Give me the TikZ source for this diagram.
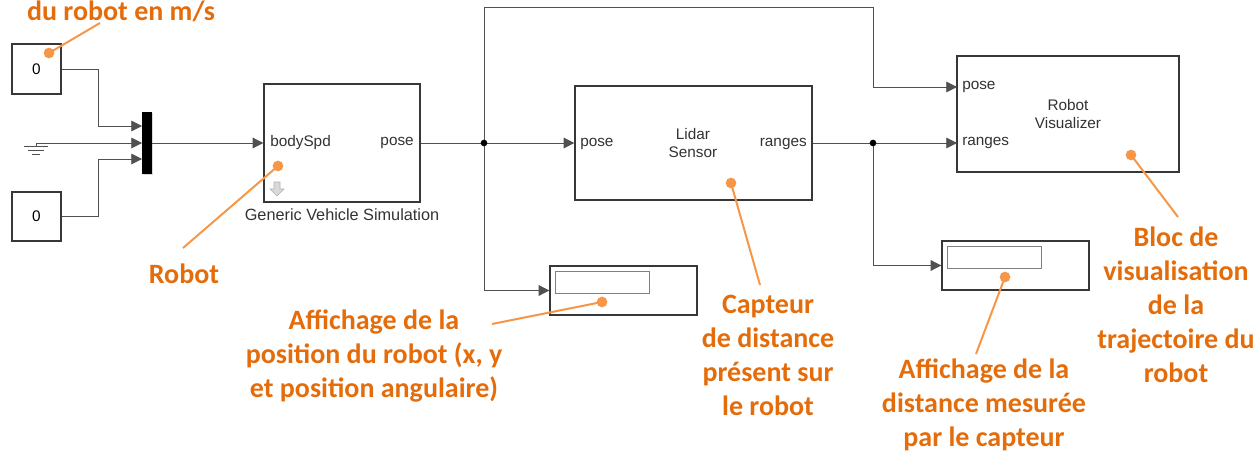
\documentclass[tikz,border=0pt]{standalone}
\usepackage{fontspec}
\setmainfont{Liberation Sans}
\newfontfamily\notefont{Carlito}
\usetikzlibrary{arrows.meta,shadows}
\definecolor{wiregray}{RGB}{80,80,80}
\definecolor{blockgray}{RGB}{55,55,55}
\definecolor{notetext}{RGB}{228,108,10}
\definecolor{noteline}{RGB}{247,150,70}

\begin{document}
\begin{tikzpicture}[x=0.75pt,y=-0.75pt,
  blk/.style={draw=blockgray,line width=1pt,fill=white,inner sep=0pt,
    drop shadow={shadow xshift=1pt,shadow yshift=-1pt,opacity=0.3}},
  wire/.style={draw=wiregray,line width=0.6pt},
  sig/.style={wire,-{Triangle[length=8pt,width=8pt]}},
  port/.style={font=\fontsize{11.5}{13}\selectfont,text=black!80,inner sep=0pt},
  note/.style={font=\notefont\bfseries\fontsize{21}{25.5}\selectfont,text=notetext,align=center,inner sep=0pt},
  callout/.style={draw=noteline,line width=1.5pt}]
\useasboundingbox (0,0) rectangle (1256,453);

% sources and mux
\node[blk,minimum width=36.75pt,minimum height=37.5pt,font=\fontsize{11.5}{13}\selectfont] (c1) at (36.5,69) {0};
\node[blk,minimum width=36.75pt,minimum height=36.75pt,font=\fontsize{11.5}{13}\selectfont] (c2) at (36.5,216.5) {0};
\node[fill=black,inner sep=0pt,minimum width=7.5pt,minimum height=46.5pt,
  drop shadow={shadow xshift=1pt,shadow yshift=-1pt,opacity=0.3}] (mux) at (147,143) {};
\coordinate (m1) at (142,126);
\coordinate (m2) at (142,143);
\coordinate (m3) at (142,159);
\coordinate (gnd) at (36,143);

% blocks
\node[blk,minimum width=117pt,minimum height=88.5pt] (gvs) at (342,143) {};
\node[blk,minimum width=177.75pt,minimum height=85.5pt] (lidar) at (693.5,143) {};
\node[blk,minimum width=166.5pt,minimum height=87pt] (viz) at (1068,114) {};
\node[blk,minimum width=110.25pt,minimum height=36.75pt] (disp1) at (623.5,290.5) {};
\node[blk,minimum width=110.25pt,minimum height=36.75pt] (disp2) at (1015.5,265.5) {};
\node[draw=gray,line width=0.6pt,inner sep=0pt,minimum width=70.5pt,minimum height=16.5pt] (val1) at (602,282) {};
\node[draw=gray,line width=0.6pt,inner sep=0pt,minimum width=70.5pt,minimum height=16pt] (val2) at (994,257.5) {};

% block texts
\node[port,anchor=west] (gvsin) at (270,143) {bodySpd};
\node[port,anchor=east] (gvsout) at (414,143) {pose};
\node[port,font=\fontsize{12.2}{14}\selectfont] (gvscap) at (342,215) {Generic Vehicle Simulation};
\node[port,anchor=west] (lidarin) at (580,144) {pose};
\node[port,anchor=east] (lidarout) at (807,144) {ranges};
\node[port,align=center] (lidarname) at (693,143) {Lidar\\Sensor};
\node[port,anchor=west] (vizpose) at (962,87) {pose};
\node[port,anchor=west] (vizrng) at (962,143) {ranges};
\node[port,align=center] (vizname) at (1068,114) {Robot\\Visualizer};
\draw[gray!60,fill=gray!30,line width=0.5pt] (274,182) -- (280,182) -- (280,189) -- (284,189)
  -- (277,196) -- (270,189) -- (274,189) -- cycle;

% signal lines
\coordinate (j1) at (484,143);
\coordinate (j2) at (873,143);
\coordinate (vp) at (957,87);
\coordinate (vr) at (957,143);
\draw[sig] (c1.east) -| (98,126) -- (m1);
\draw[sig] (c2.east) -| (98,159) -- (m3);
\draw[sig] (gnd) -- (m2);
\draw[wire] (gnd) -- (36,146);
\draw[wire] (24,146) -- (48,146) (28,150) -- (44,150) (32,154) -- (40,154);
\draw[sig] (mux.east) -- (gvs.west);
\draw[wire] (gvs.east) -- (j1);
\draw[sig] (j1) -- (lidar.west);
\draw[sig] (j1) -- (484,7) -| (873,87) -- (vp);
\draw[sig] (j1) |- (disp1.west);
\draw[wire] (lidar.east) -- (j2);
\draw[sig] (j2) -- (vr);
\draw[sig] (j2) |- (disp2.west);
\fill[black] (j1) circle (2.5pt);
\fill[black] (j2) circle (2.5pt);

% callouts
\coordinate (dv) at (49,53);   \coordinate (ev) at (100,23);
\coordinate (dr) at (278,166); \coordinate (er) at (183,248);
\coordinate (dp) at (602,302); \coordinate (ep) at (492,324);
\coordinate (dc) at (731,183); \coordinate (ec) at (760,285);
\coordinate (dd) at (1005,277);\coordinate (ed) at (976,354);
\coordinate (db) at (1131,155);\coordinate (eb) at (1178,217);
\draw[callout] (dv) -- (ev);
\draw[callout] (dr) -- (er);
\draw[callout] (dp) -- (ep);
\draw[callout] (dc) -- (ec);
\draw[callout] (dd) -- (ed);
\draw[callout] (db) -- (eb);
\fill[noteline] (dv) circle (4pt);
\fill[noteline] (dr) circle (4pt);
\fill[noteline] (dp) circle (4pt);
\fill[noteline] (dc) circle (4pt);
\fill[noteline] (dd) circle (4pt);
\fill[noteline] (db) circle (4pt);

\node[note] (nvit) at (121,11) {du robot en m/s};
\node[note] (nrob) at (184,274) {Robot};
\node[note] (npos) at (374,356) {Affichage de la\\position du robot (x, y\\et position angulaire)};
\node[note] (ncap) at (768,355) {Capteur\\de distance\\présent sur\\le robot};
\node[note] (ndist) at (984,405) {Affichage de la\\distance mesurée\\par le capteur};
\node[note] (nbloc) at (1176,305) {Bloc de\\visualisation\\de la\\trajectoire du\\robot};
\end{tikzpicture}
\end{document}
